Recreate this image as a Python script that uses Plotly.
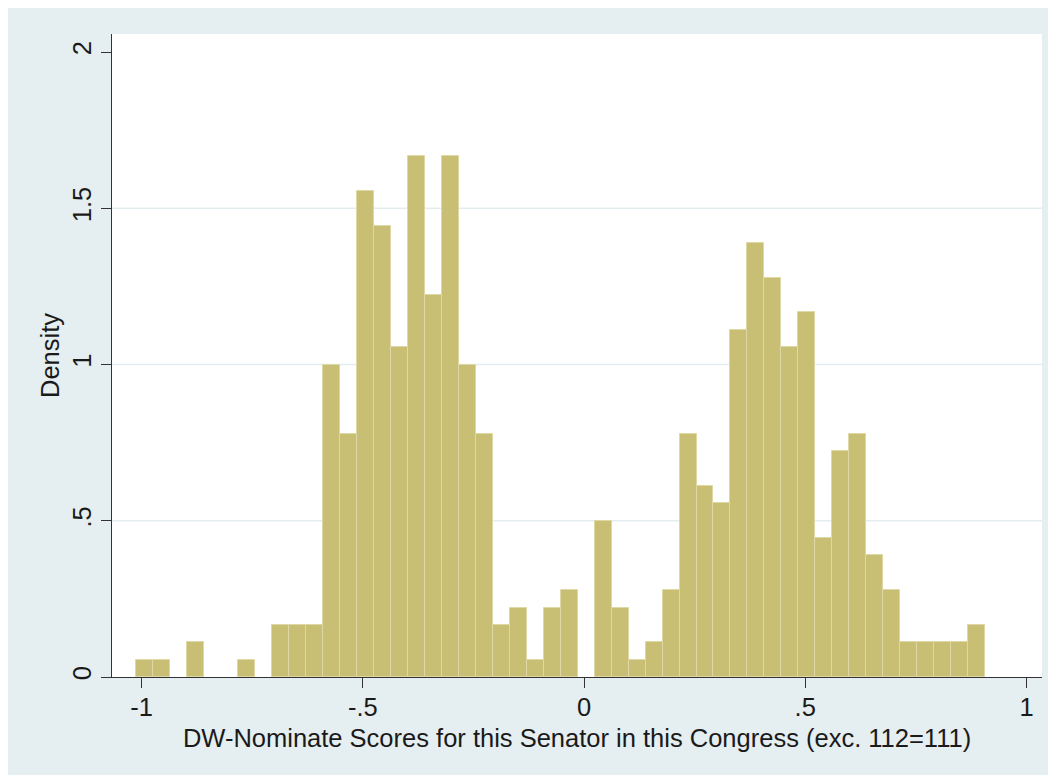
import plotly.graph_objects as go

# Histogram of DW-Nominate scores: 50 equal-width bins, density scale
bin_start = -1.013
bin_width = 0.0384
density = [
    0.056, 0.056, 0.0, 0.111, 0.0, 0.0, 0.056, 0.0, 0.167, 0.167,
    0.167, 1.0, 0.778, 1.556, 1.444, 1.056, 1.667, 1.222, 1.667, 1.0,
    0.778, 0.167, 0.222, 0.056, 0.222, 0.278, 0.0, 0.5, 0.222, 0.056,
    0.111, 0.278, 0.778, 0.611, 0.556, 1.111, 1.389, 1.278, 1.056, 1.167,
    0.444, 0.722, 0.778, 0.389, 0.278, 0.111, 0.111, 0.111, 0.111, 0.167,
]

x_ticks = [-1, -0.5, 0, 0.5, 1]
x_tick_text = ["-1", "-.5", "0", ".5", "1"]
y_ticks = [0, 0.5, 1, 1.5, 2]
y_tick_text = ["0", ".5", "1", "1.5", "2"]
grid_vals = [0.5, 1, 1.5]

centers = [bin_start + (i + 0.5) * bin_width for i in range(len(density))]
# empty bins get no outline so nothing is drawn on the baseline
edge_widths = [1 if d > 0 else 0 for d in density]

BAR_FILL = "#c8bf74"
BAR_EDGE = "#ded8a6"
REGION_BG = "#e5eef0"
GRID = "#e3edef"
INK = "#1a1a1a"
FONT = "Liberation Sans, Arial, Helvetica, sans-serif"
FS = 25.5

fig = go.Figure(
    go.Bar(
        x=centers,
        y=density,
        width=bin_width,
        marker=dict(color=BAR_FILL, line=dict(color=BAR_EDGE, width=edge_widths)),
        hovertemplate="%{x:.3f}: %{y:.3f}<extra></extra>",
    )
)

# horizontal grid at interior ticks only
for g in grid_vals:
    fig.add_shape(
        type="line", xref="paper", x0=0, x1=1, yref="y", y0=g, y1=g,
        line=dict(color=GRID, width=1.5), layer="below",
    )

# white page strips around the graph region
fig.add_shape(type="rect", xref="paper", yref="paper",
              x0=-0.2, x1=-0.1118, y0=-0.3, y1=1.2,
              fillcolor="white", line=dict(width=0), layer="below")
fig.add_shape(type="rect", xref="paper", yref="paper",
              x0=-0.2, x1=1.2, y0=1.0404, y1=1.2,
              fillcolor="white", line=dict(width=0), layer="below")

fig.update_layout(
    width=1048,
    height=775,
    margin=dict(l=112, r=6, t=34, b=98),
    paper_bgcolor=REGION_BG,
    plot_bgcolor="white",
    bargap=0,
    showlegend=False,
    font=dict(family=FONT, size=FS, color=INK),
    xaxis=dict(
        range=[-1.0667, 1.035],
        tickvals=x_ticks,
        ticktext=x_tick_text,
        ticks="outside",
        ticklen=10,
        tickwidth=1.2,
        tickcolor="#333333",
        ticklabelstandoff=-3,
        showline=True,
        linecolor="#333333",
        linewidth=1.2,
        showgrid=False,
        zeroline=False,
        title=dict(text="DW-Nominate Scores for this Senator in this Congress (exc. 112=111)",
                   standoff=9, font=dict(size=FS)),
        tickfont=dict(size=FS),
    ),
    yaxis=dict(
        range=[0, 2.0576],
        tickvals=y_ticks,
        ticktext=y_tick_text,
        tickangle=-90,
        ticks="outside",
        ticklen=10,
        tickwidth=1.2,
        tickcolor="#333333",
        showline=True,
        linecolor="#333333",
        linewidth=1.2,
        showgrid=False,
        zeroline=False,
        title=dict(text="Density", standoff=0, font=dict(size=FS)),
        tickfont=dict(size=FS),
    ),
)

fig.write_html("out.html")
